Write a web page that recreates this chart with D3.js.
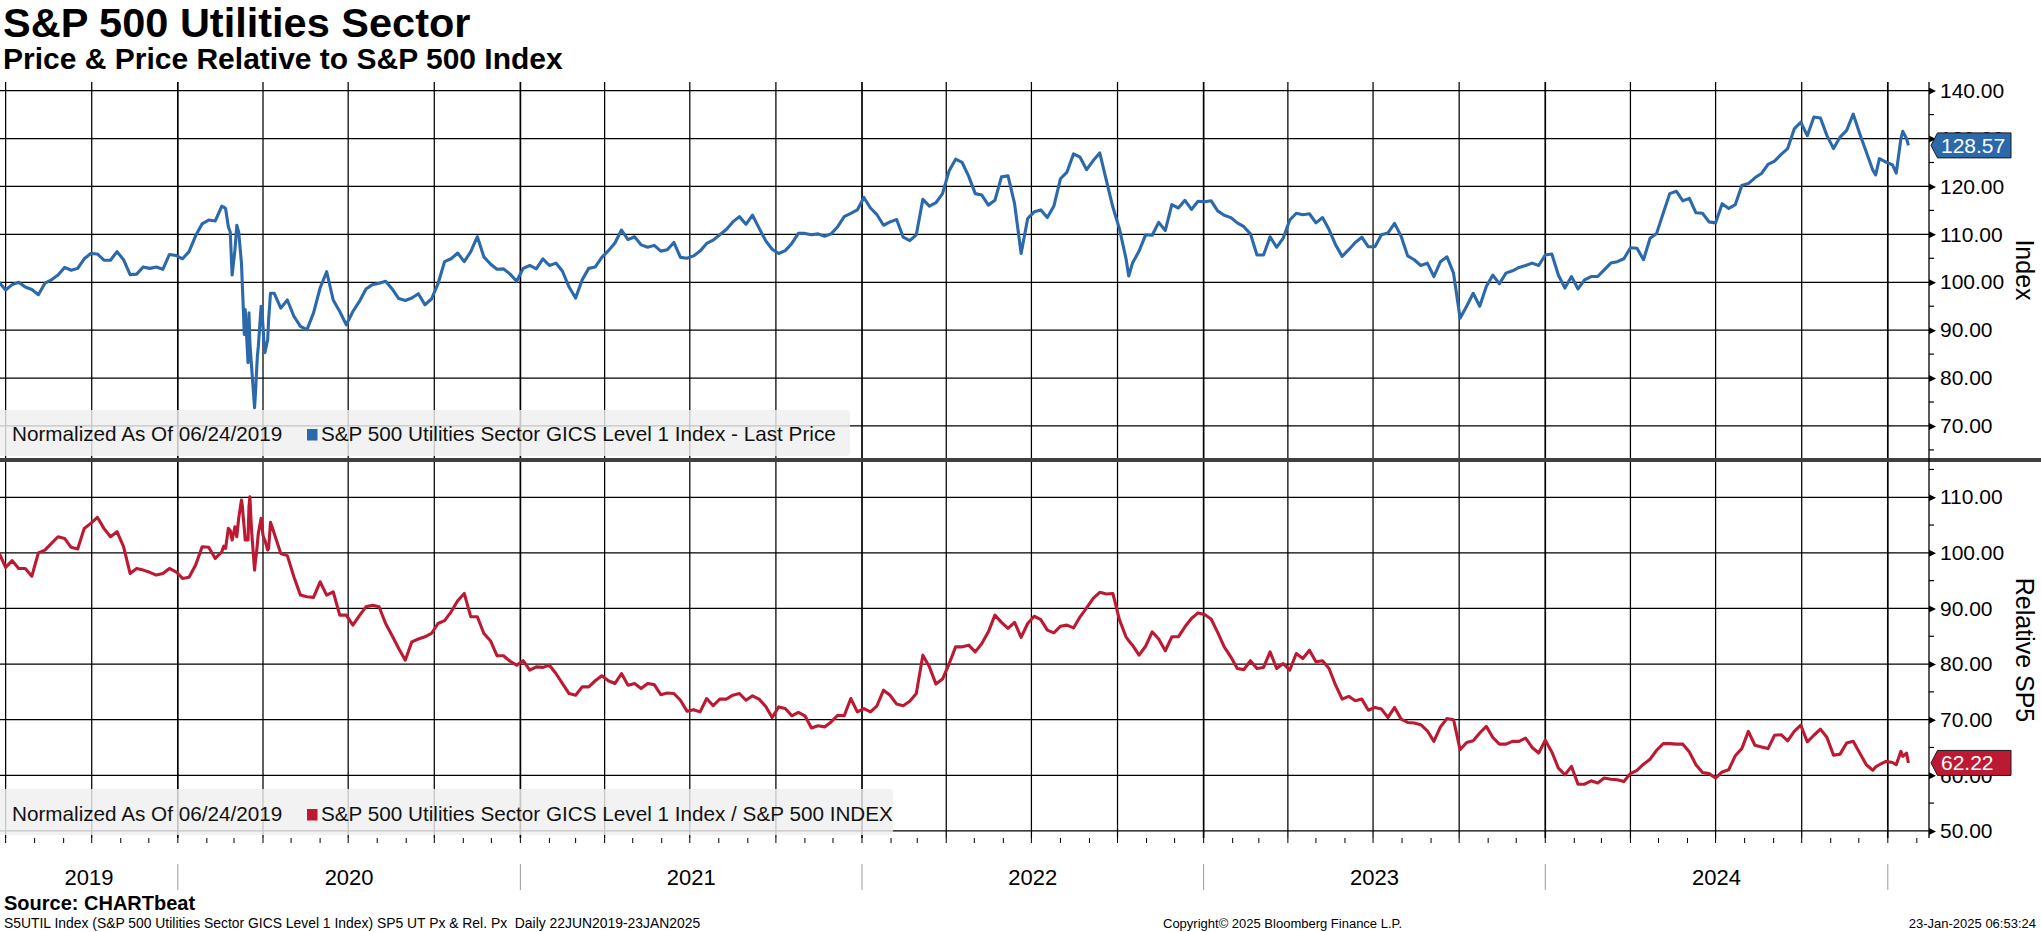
<!DOCTYPE html>
<html><head><meta charset="utf-8">
<script src="https://cdn.jsdelivr.net/npm/d3@7"></script>
<style>
html,body{margin:0;padding:0;background:#fff;}
svg{display:block;}
text{font-family:"Liberation Sans",Arial,sans-serif;}
</style></head><body>
<svg id="chart" width="2041" height="932"></svg>
<script>
// ---------------- DATA ----------------
const dates = [
// 2019
"2019-06-24","2019-07-01","2019-07-08","2019-07-15","2019-07-22","2019-07-29","2019-08-05","2019-08-12","2019-08-19","2019-08-26","2019-09-02","2019-09-09","2019-09-16","2019-09-23","2019-09-30","2019-10-07","2019-10-14","2019-10-21","2019-10-28","2019-11-04","2019-11-11","2019-11-18","2019-11-25","2019-12-02","2019-12-09","2019-12-16","2019-12-23","2019-12-30",
// 2020 Jan-Feb
"2020-01-06","2020-01-13","2020-01-20","2020-01-27","2020-02-03","2020-02-10","2020-02-17",
// 2020 crash period
"2020-02-19","2020-02-21","2020-02-24","2020-02-26","2020-02-28","2020-03-02","2020-03-04","2020-03-06","2020-03-09","2020-03-10","2020-03-11","2020-03-12","2020-03-13","2020-03-16","2020-03-17","2020-03-18","2020-03-19","2020-03-20","2020-03-23","2020-03-24","2020-03-25","2020-03-26","2020-03-27","2020-03-30","2020-03-31","2020-04-01","2020-04-02","2020-04-03","2020-04-06","2020-04-07","2020-04-09",
// 2020 rest
"2020-04-13","2020-04-20","2020-04-27","2020-05-04","2020-05-11","2020-05-18","2020-05-25","2020-06-01","2020-06-08","2020-06-15","2020-06-22","2020-06-29","2020-07-06","2020-07-13","2020-07-20","2020-07-27","2020-08-03","2020-08-10","2020-08-17","2020-08-24","2020-08-31","2020-09-07","2020-09-14","2020-09-21","2020-09-28","2020-10-05","2020-10-12","2020-10-19","2020-10-26","2020-11-02","2020-11-09","2020-11-16","2020-11-23","2020-11-30","2020-12-07","2020-12-14","2020-12-21","2020-12-28",
// 2021
"2021-01-04","2021-01-11","2021-01-18","2021-01-25","2021-02-01","2021-02-08","2021-02-15","2021-02-22","2021-03-01","2021-03-08","2021-03-15","2021-03-22","2021-03-29","2021-04-05","2021-04-12","2021-04-19","2021-04-26","2021-05-03","2021-05-10","2021-05-17","2021-05-24","2021-05-31","2021-06-07","2021-06-14","2021-06-21","2021-06-28","2021-07-05","2021-07-12","2021-07-19","2021-07-26","2021-08-02","2021-08-09","2021-08-16","2021-08-23","2021-08-30","2021-09-06","2021-09-13","2021-09-20","2021-09-27","2021-10-04","2021-10-11","2021-10-18","2021-10-25","2021-11-01","2021-11-08","2021-11-15","2021-11-22","2021-11-29","2021-12-06","2021-12-13","2021-12-20","2021-12-27",
// 2022
"2022-01-03","2022-01-10","2022-01-17","2022-01-24","2022-01-31","2022-02-07","2022-02-14","2022-02-21","2022-02-28","2022-03-07","2022-03-14","2022-03-21","2022-03-28","2022-04-04","2022-04-11","2022-04-18","2022-04-25","2022-05-02","2022-05-09","2022-05-16","2022-05-23","2022-05-30","2022-06-06","2022-06-13","2022-06-20","2022-06-27","2022-07-04","2022-07-11","2022-07-18","2022-07-25","2022-08-01","2022-08-08","2022-08-15","2022-08-22","2022-08-29","2022-09-05","2022-09-12","2022-09-19","2022-09-26","2022-10-03","2022-10-10","2022-10-13","2022-10-17","2022-10-24","2022-10-31","2022-11-07","2022-11-14","2022-11-21","2022-11-28","2022-12-05","2022-12-12","2022-12-19","2022-12-26",
// 2023
"2023-01-02","2023-01-09","2023-01-16","2023-01-23","2023-01-30","2023-02-06","2023-02-13","2023-02-20","2023-02-27","2023-03-06","2023-03-13","2023-03-20","2023-03-27","2023-04-03","2023-04-10","2023-04-17","2023-04-24","2023-05-01","2023-05-08","2023-05-15","2023-05-22","2023-05-29","2023-06-05","2023-06-12","2023-06-19","2023-06-26","2023-07-03","2023-07-10","2023-07-17","2023-07-24","2023-07-31","2023-08-07","2023-08-14","2023-08-21","2023-08-28","2023-09-04","2023-09-11","2023-09-18","2023-09-25","2023-10-02","2023-10-09","2023-10-16","2023-10-23","2023-10-30","2023-11-06","2023-11-13","2023-11-20","2023-11-27","2023-12-04","2023-12-11","2023-12-18","2023-12-25",
// 2024
"2024-01-01","2024-01-08","2024-01-15","2024-01-22","2024-01-29","2024-02-05","2024-02-12","2024-02-19","2024-02-26","2024-03-04","2024-03-11","2024-03-18","2024-03-25","2024-04-01","2024-04-08","2024-04-15","2024-04-22","2024-04-29","2024-05-06","2024-05-13","2024-05-20","2024-05-27","2024-06-03","2024-06-10","2024-06-17","2024-06-24","2024-07-01","2024-07-08","2024-07-15","2024-07-22","2024-07-29","2024-08-05","2024-08-12","2024-08-19","2024-08-26","2024-09-02","2024-09-09","2024-09-16","2024-09-23","2024-09-30","2024-10-07","2024-10-14","2024-10-21","2024-10-28","2024-11-04","2024-11-11","2024-11-18","2024-11-25","2024-12-02","2024-12-09","2024-12-16","2024-12-19","2024-12-23","2024-12-30",
// 2025
"2025-01-06","2025-01-10","2025-01-15","2025-01-17","2025-01-21","2025-01-23"
];

// S&P 500 Utilities Sector, normalized (06/24/2019 = 100)
const priceIdx = [
100.0,98.4,99.5,100.0,99.0,98.5,97.4,99.8,100.5,101.5,103.1,102.5,102.9,104.9,106.0,105.9,104.6,104.6,106.4,104.7,101.6,101.7,103.2,102.9,103.2,102.7,105.8,105.6,
104.9,106.4,109.7,112.2,113.0,112.8,115.9,
115.7,115.4,111.6,110.5,101.5,106.7,111.9,110.5,104.0,99.1,94.3,89.1,94.3,83.2,93.6,87.3,84.6,81.8,73.8,77.0,81.0,84.6,86.6,95.0,93.6,90.8,87.3,85.3,88.0,92.2,97.7,
97.7,94.6,96.3,92.9,90.8,90.1,93.6,98.8,102.2,96.3,93.9,91.1,93.9,96.0,98.6,99.5,99.8,100.2,98.6,96.6,96.2,96.7,97.6,95.3,96.5,99.7,104.3,104.9,106.1,104.3,106.4,109.5,105.3,103.8,102.7,102.8,101.7,100.2,
102.9,103.5,102.8,104.9,103.5,104.0,102.3,99.0,96.7,100.5,102.9,103.2,105.2,106.6,108.2,110.9,108.9,109.5,107.8,107.3,107.7,106.5,106.8,108.3,105.2,105.0,105.5,106.5,108.1,108.8,109.9,111.0,112.6,113.7,112.1,114.0,111.3,108.7,106.9,106.0,106.6,108.1,110.2,110.2,109.9,110.1,109.6,110.1,111.6,113.7,114.4,115.1,
117.7,115.5,114.1,111.9,112.6,113.1,109.4,108.7,109.9,117.3,115.9,116.6,118.5,123.2,125.7,125.0,122.1,118.5,118.2,116.1,117.1,122.0,122.2,116.4,106.0,113.3,114.7,115.1,113.5,115.9,121.6,123.0,126.8,126.1,123.5,125.4,127.0,121.3,115.7,111.2,105.0,101.3,104.0,106.5,109.9,109.8,112.5,110.8,116.2,115.5,117.1,115.2,116.9,
116.8,117.0,114.9,114.0,113.5,112.4,111.6,110.1,105.7,105.7,109.5,107.3,109.2,113.0,114.4,114.1,114.3,112.4,113.5,111.0,107.8,105.4,106.8,108.3,109.4,107.4,107.4,109.9,110.3,112.3,109.6,105.5,104.7,103.5,104.0,101.2,104.3,105.3,101.9,92.5,95.0,97.7,95.0,99.1,101.5,99.7,101.9,102.4,103.1,103.5,104.0,103.5,
105.7,105.9,101.5,98.8,101.2,98.6,100.5,101.2,101.2,102.6,104.0,104.3,104.9,107.2,107.1,104.7,109.2,110.2,114.4,118.5,119.0,117.0,117.5,114.5,114.4,112.6,112.4,116.4,115.4,116.2,120.2,120.6,121.8,122.7,124.6,125.3,126.7,127.9,132.0,133.4,130.6,134.5,134.3,130.6,127.9,130.3,131.7,135.1,131.0,127.2,123.4,122.4,125.8,125.1,
124.5,122.8,130.0,131.5,130.0,128.57
];

// S&P 500 Utilities Sector / S&P 500 Index, normalized (06/24/2019 = 100)
const relIdx = [
100.0,97.4,98.6,97.2,97.2,95.8,100.0,100.5,101.7,102.9,102.6,101.0,100.7,104.4,105.3,106.4,104.4,102.9,103.8,101.1,96.3,97.2,96.9,96.5,96.0,96.3,97.2,96.6,
95.4,95.6,97.8,101.1,101.0,99.0,100.2,
101.2,100.8,104.4,104.0,102.3,104.7,102.9,106.2,109.5,108.3,106.2,104.4,102.3,102.3,108.3,110.1,106.5,103.5,96.9,98.7,99.9,101.7,103.5,106.2,104.7,103.2,102.6,102.3,100.5,100.8,105.5,
103.5,99.9,99.5,95.7,92.4,92.1,92.0,94.8,92.4,93.0,88.8,88.8,87.0,88.7,90.3,90.6,90.3,87.3,85.1,82.8,80.7,84.0,84.5,84.9,85.5,87.3,87.8,89.4,91.4,92.7,88.5,88.5,85.5,84.2,81.5,81.5,80.5,79.8,
80.6,78.9,79.5,79.4,79.8,78.3,76.5,74.7,74.4,75.9,75.9,77.0,77.9,77.0,76.5,78.3,76.2,76.5,75.6,76.5,76.3,74.5,74.8,74.7,73.5,71.5,71.8,71.4,73.8,72.5,73.7,73.7,74.4,74.7,73.5,74.3,73.7,72.4,70.4,72.3,72.0,70.7,71.3,70.7,68.5,68.9,68.7,69.6,70.8,70.7,73.8,71.4,
72.0,71.4,72.5,75.3,74.4,72.8,72.5,73.3,74.7,81.6,79.5,76.4,77.3,80.0,83.1,83.1,83.4,82.2,83.7,85.8,88.8,87.5,86.4,87.5,84.8,87.3,88.6,88.0,86.1,85.6,86.8,87.0,86.5,88.5,90.1,91.8,92.9,92.6,92.7,88.0,84.9,84.2,83.4,81.6,83.2,85.8,84.5,82.4,84.9,84.9,86.7,88.2,89.2,
88.9,88.1,85.7,83.1,81.3,79.2,79.0,80.6,79.2,79.4,82.2,79.2,80.1,78.9,81.9,81.0,82.5,80.4,80.6,79.2,76.2,73.7,74.2,73.4,73.7,71.7,72.2,71.9,70.4,72.2,70.1,69.5,69.4,69.1,68.0,66.1,68.7,70.2,70.0,64.6,65.9,66.2,67.6,68.8,66.8,65.6,65.6,66.1,66.1,66.7,65.0,64.0,
66.3,64.2,61.3,60.1,61.6,58.4,58.4,59.0,58.6,59.5,59.3,59.2,58.9,60.3,60.9,62.0,62.9,64.5,65.7,65.7,65.6,65.6,64.2,61.9,60.5,60.3,59.5,60.6,61.0,63.5,64.8,67.9,65.4,65.1,64.8,67.2,67.3,66.2,67.9,69.0,66.0,67.2,68.3,66.8,63.6,63.8,65.8,66.1,64.0,61.9,60.9,61.5,61.9,62.5,
62.3,61.9,64.3,63.4,64.0,62.22
];

const topTicks = [70,80,90,100,110,120,130,140];
const topMinor = [65,75,85,95,105,115,125,135];
const botTicks = [50,60,70,80,90,100,110];
const botMinor = [55,65,75,85,95,105,115];

const titleText = "S&P 500 Utilities Sector";
const subtitleText = "Price & Price Relative to S&P 500 Index";
const legendNorm = "Normalized As Of 06/24/2019";
const legendTop = "S&P 500 Utilities Sector GICS Level 1 Index - Last Price";
const legendBot = "S&P 500 Utilities Sector GICS Level 1 Index / S&P 500 INDEX";
const footLeft = "S5UTIL Index (S&P 500 Utilities Sector GICS Level 1 Index) SP5 UT Px & Rel. Px \u00A0Daily 22JUN2019-23JAN2025";
const footMid = "Copyright\u00A9 2025 Bloomberg Finance L.P.";
const footRight = "23-Jan-2025 06:53:24";

// ---------------- CHART ----------------
const BLUE = "#2c69ab", RED = "#bc1a32";
const axisX = 1929;
const topY0 = 82, topY1 = 458, botY0 = 462, botY1 = 838;
const parse = d3.timeParse("%Y-%m-%d");
const n = Math.min(dates.length, priceIdx.length, relIdx.length);
const rows = d3.range(n).map(i => ({d: parse(dates[i]), p: priceIdx[i], r: relIdx[i]}));

const x = d3.scaleTime().domain([parse("2019-06-25"), parse("2025-02-14")]).range([0, axisX]);
const yTop = d3.scaleLinear().domain([62.9, 141.8]).range([460, 82]);
const yBot = d3.scaleLinear().domain([48.72, 116.7]).range([838, 460]);

const svg = d3.select("#chart");
const defs = svg.append("defs");
defs.append("clipPath").attr("id","cTop").append("rect").attr("x",0).attr("y",topY0).attr("width",axisX).attr("height",topY1-topY0);
defs.append("clipPath").attr("id","cBot").append("rect").attr("x",0).attr("y",botY0).attr("width",axisX).attr("height",botY1-botY0);

// vertical grid (quarterly, thicker on year)
const quarters = x.ticks(d3.timeMonth.every(3));
[[topY0,topY1],[botY0,botY1]].forEach(([a,b]) => {
  svg.append("g").selectAll("line").data(quarters).join("line")
    .attr("x1", d => x(d)).attr("x2", d => x(d)).attr("y1", a).attr("y2", b)
    .attr("stroke", "#000").attr("stroke-width", d => d.getMonth() === 0 ? 1.7 : 1.25);
});
// horizontal grid
svg.append("g").selectAll("line").data(topTicks).join("line")
  .attr("x1",0).attr("x2",axisX).attr("y1",d=>yTop(d)).attr("y2",d=>yTop(d))
  .attr("stroke","#000").attr("stroke-width",1.25);
svg.append("g").selectAll("line").data(botTicks).join("line")
  .attr("x1",0).attr("x2",axisX).attr("y1",d=>yBot(d)).attr("y2",d=>yBot(d))
  .attr("stroke","#000").attr("stroke-width",1.25);

// lines
const lineTop = d3.line().x(d => x(d.d)).y(d => yTop(d.p));
const lineBot = d3.line().x(d => x(d.d)).y(d => yBot(d.r));
svg.append("path").datum(rows).attr("clip-path","url(#cTop)").attr("d", lineTop)
  .attr("fill","none").attr("stroke",BLUE).attr("stroke-width",3.1).attr("stroke-linejoin","round");
svg.append("path").datum(rows).attr("clip-path","url(#cBot)").attr("d", lineBot)
  .attr("fill","none").attr("stroke",RED).attr("stroke-width",3.1).attr("stroke-linejoin","round");

// legend boxes
function legend(y0, h, w, color, label, baseline) {
  svg.append("rect").attr("x",-4).attr("y",y0).attr("width",w+4).attr("height",h).attr("rx",4)
    .attr("fill","#efefef").attr("fill-opacity",0.82);
  svg.append("text").attr("x",12).attr("y",baseline).attr("font-size",20.7).attr("fill","#111").text(legendNorm);
  svg.append("rect").attr("x",307).attr("y",baseline-12).attr("width",10.5).attr("height",11.5).attr("fill",color);
  svg.append("text").attr("x",321).attr("y",baseline).attr("font-size",20.7).attr("fill","#111").text(label);
}
legend(410, 46, 850, BLUE, legendTop, 441);
legend(789, 46, 893, RED, legendBot, 821);

// splitter
svg.append("rect").attr("x",0).attr("y",458).attr("width",2041).attr("height",4).attr("fill","#3f3f3f");

// right axes
function rightAxis(scale, ticks, minor) {
  const g = svg.append("g").attr("transform",`translate(${axisX},0)`)
    .call(d3.axisRight(scale).tickValues(ticks).tickSize(0).tickSizeOuter(0).tickPadding(11).tickFormat(d3.format(".2f")));
  g.select(".domain").remove();
  g.selectAll("text").attr("font-size",21).attr("font-family","Liberation Sans, Arial, sans-serif").attr("fill","#000");
  g.selectAll(".tick").append("path").attr("d","M0,-3.5L7,0L0,3.5Z").attr("fill","#000");
  g.append("g").selectAll("line").data(minor).join("line")
    .attr("x1",0).attr("x2",5).attr("y1",d=>scale(d)).attr("y2",d=>scale(d))
    .attr("stroke","#000").attr("stroke-width",1.2);
}
rightAxis(yTop, topTicks, topMinor);
rightAxis(yBot, botTicks, botMinor);
svg.append("line").attr("x1",axisX).attr("x2",axisX).attr("y1",topY0).attr("y2",botY1).attr("stroke","#000").attr("stroke-width",1.3);

// axis titles
svg.append("text").attr("transform",`translate(2016,${(topY0+topY1)/2}) rotate(90)`).attr("text-anchor","middle")
  .attr("font-size",25).attr("fill","#000").text("Index");
svg.append("text").attr("transform",`translate(2016,${(botY0+botY1)/2}) rotate(90)`).attr("text-anchor","middle")
  .attr("font-size",25).attr("fill","#000").text("Relative SP5");

// last value tags
function tag(yv, color, txt) {
  const h = 12.5;
  svg.append("path").attr("d",`M1931,${yv}L1937.5,${yv-h}L2011,${yv-h}L2011,${yv+h}L1937.5,${yv+h}Z`)
    .attr("fill",color).attr("stroke","#1a1a1a").attr("stroke-width",1);
  svg.append("text").attr("x",1941).attr("y",yv).attr("dy","0.36em").attr("font-size",21).attr("fill","#fff").text(txt);
}
const last = rows[rows.length-1];
tag(yTop(last.p), BLUE, d3.format(".2f")(last.p));
tag(yBot(last.r), RED, d3.format(".2f")(last.r));

// bottom monthly ticks
const months = x.ticks(d3.timeMonth.every(1));
svg.append("g").selectAll("line").data(months).join("line")
  .attr("x1",d=>x(d)).attr("x2",d=>x(d)).attr("y1",botY1).attr("y2",botY1+5)
  .attr("stroke","#000").attr("stroke-width",1);

// year labels + separators
const yearStarts = d3.timeYear.range(d3.timeYear.floor(x.domain()[0]), x.domain()[1]);
yearStarts.forEach(y0 => {
  const y1 = d3.timeYear.offset(y0, 1);
  const a = Math.max(0, x(y0)), b = Math.min(axisX, x(y1));
  if (b - a > 150) {
    svg.append("text").attr("x",(a+b)/2).attr("y",885).attr("text-anchor","middle")
      .attr("font-size",22).attr("fill","#000").text(d3.timeFormat("%Y")(y0));
  }
  if (x(y0) > 0) {
    svg.append("line").attr("x1",x(y0)).attr("x2",x(y0)).attr("y1",864).attr("y2",890)
      .attr("stroke","#9a9a9a").attr("stroke-width",1);
  }
});

// titles
svg.append("text").attr("x",3).attr("y",37).attr("font-size",41.5).attr("font-weight","bold").attr("fill","#000").text(titleText);
svg.append("text").attr("x",3).attr("y",69).attr("font-size",30).attr("font-weight","bold").attr("fill","#000").text(subtitleText);

// footer
svg.append("text").attr("x",4).attr("y",910).attr("font-size",20).attr("font-weight","bold").attr("fill","#000").text("Source: CHARTbeat");
svg.append("text").attr("x",4).attr("y",928).attr("font-size",13.9).attr("fill","#000").text(footLeft);
svg.append("text").attr("x",1163).attr("y",928).attr("font-size",13).attr("fill","#000").text(footMid);
svg.append("text").attr("x",2036).attr("y",928).attr("text-anchor","end").attr("font-size",13).attr("fill","#000").text(footRight);
</script>
</body></html>
